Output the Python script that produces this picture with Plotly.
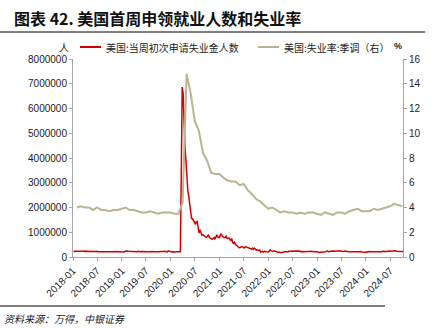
import pandas as pd
import plotly.graph_objects as go

# Weekly initial jobless claims (SA), thousands of persons, week ending Saturday from 2018-01-06
claims_2018 = [250, 220, 233, 230, 221, 223, 230, 210, 222, 213, 229, 246, 215, 231, 233, 211, 210, 216, 222, 234,
               221, 223, 221, 218, 228, 232, 215, 208, 219, 210, 213, 214, 213, 204, 209, 205, 202, 209, 201, 207,
               214, 216, 217, 214, 225, 224, 232, 235, 225, 210, 221, 232]
claims_2019 = [216, 213, 200, 234, 253, 239, 229, 227, 217, 226, 216, 225, 211, 196, 202, 192, 210, 230, 212, 212,
               218, 215, 211, 221, 227, 221, 212, 206, 215, 215, 209, 218, 210, 215, 214, 213, 210, 219, 217, 210,
               216, 219, 213, 211, 227, 228, 215, 213, 203, 252, 235, 222]
claims_2020 = [214, 207, 216, 223, 203, 207, 210, 213, 216, 215, 211, 3307, 6867, 6615, 5237, 4442, 3867, 3176, 2687,
               2446, 2123, 1897, 1566, 1540, 1482, 1413, 1310, 1422, 1435, 1191, 971, 1106, 1011, 881, 893, 866, 873,
               849, 787, 845, 898, 787, 751, 757, 711, 748, 787, 716, 862, 892, 806, 790]
claims_2021 = [787, 926, 914, 836, 812, 779, 793, 841, 754, 745, 770, 684, 658, 741, 576, 553, 592, 505, 473, 440,
               406, 375, 385, 412, 418, 411, 364, 385, 424, 400, 375, 348, 354, 340, 318, 351, 312, 362, 327, 289,
               296, 269, 269, 281, 194, 216, 227, 199, 237, 209, 205, 198]
claims_2022 = [207, 230, 286, 260, 238, 229, 248, 232, 215, 227, 214, 187, 202, 171, 185, 181, 186, 200, 218, 210,
               227, 200, 229, 230, 231, 235, 244, 261, 254, 248, 252, 250, 246, 243, 233, 209, 222, 219, 193, 214,
               226, 217, 218, 221, 225, 240, 230, 226, 214, 211, 216, 223]
claims_2023 = [206, 190, 192, 183, 196, 194, 195, 192, 197, 211, 228, 246, 228, 211, 235, 245, 229, 241, 244, 229,
               234, 238, 254, 246, 248, 249, 234, 222, 232, 221, 238, 240, 239, 230, 216, 215, 203, 207, 210, 213,
               223, 219, 212, 214, 220, 222, 233, 225, 205, 200, 218, 204]
claims_2024 = [202, 187, 214, 224, 218, 220, 213, 201, 213, 210, 209, 212, 222, 221, 212, 212, 208, 209, 231, 222,
               230, 229, 221, 223, 243, 238, 233, 238, 222, 235, 245, 243, 249, 233, 227, 232, 231, 219, 224, 219,
               225, 258, 241, 227]

# Monthly unemployment rate (SA), %, plotted at month end from 2018-01
unemp_2018 = [4.0, 4.1, 4.0, 4.0, 3.8, 4.0, 3.8, 3.8, 3.7, 3.8, 3.8, 3.9]
unemp_2019 = [4.0, 3.8, 3.8, 3.7, 3.6, 3.6, 3.7, 3.6, 3.5, 3.6, 3.6, 3.6]
unemp_2020 = [3.5, 3.5, 4.4, 14.8, 13.2, 11.0, 10.2, 8.4, 7.8, 6.8, 6.7, 6.7]
unemp_2021 = [6.4, 6.2, 6.1, 6.1, 5.8, 5.9, 5.4, 5.1, 4.7, 4.5, 4.2, 3.9]
unemp_2022 = [4.0, 3.8, 3.6, 3.7, 3.6, 3.6, 3.5, 3.6, 3.5, 3.6, 3.6, 3.5]
unemp_2023 = [3.4, 3.6, 3.5, 3.4, 3.6, 3.6, 3.5, 3.7, 3.8, 3.9, 3.7, 3.7]
unemp_2024 = [3.7, 3.9, 3.8, 3.9, 4.0, 4.1, 4.3, 4.2, 4.1]

tick_labels = ["2018-01", "2018-07", "2019-01", "2019-07", "2020-01", "2020-07", "2021-01",
               "2021-07", "2022-01", "2022-07", "2023-01", "2023-07", "2024-01", "2024-07"]

claims_k = claims_2018 + claims_2019 + claims_2020 + claims_2021 + claims_2022 + claims_2023 + claims_2024
claims = [v * 1000 for v in claims_k]
claim_dates = pd.date_range("2018-01-06", periods=len(claims), freq="7D")

unemp = unemp_2018 + unemp_2019 + unemp_2020 + unemp_2021 + unemp_2022 + unemp_2023 + unemp_2024
unemp_dates = pd.date_range("2018-01-31", periods=len(unemp), freq="ME")

RED = "#d40000"
OLIVE = "#b9b492"
AXIS = "#a6a6a6"
TXT = "#222222"
CJK = "Noto Sans CJK SC"
LAT = "Liberation Sans, Arial, sans-serif"

fig = go.Figure()
fig.add_trace(go.Scatter(x=unemp_dates, y=unemp, mode="lines", yaxis="y2",
                         line=dict(color=OLIVE, width=2), name="美国:失业率:季调（右）"))
fig.add_trace(go.Scatter(x=claim_dates, y=claims, mode="lines",
                         line=dict(color=RED, width=1.5), name="美国:当周初次申请失业金人数"))

fig.update_layout(
    width=447, height=328,
    margin=dict(l=73, r=44, t=59, b=71),
    paper_bgcolor="white", plot_bgcolor="white",
    showlegend=False,
    xaxis=dict(
        type="date",
        range=["2018-01-01", "2024-10-05"],
        tickvals=[pd.Timestamp(t + "-01") for t in tick_labels],
        ticktext=tick_labels,
        tickangle=-45,
        showgrid=False, zeroline=False,
        showline=True, linecolor=AXIS, linewidth=1,
        ticks="outside", ticklen=3, tickcolor=AXIS,
        tickfont=dict(family=LAT, size=10, color=TXT),
    ),
    yaxis=dict(
        range=[0, 8000000], dtick=1000000, tickformat="d",
        showgrid=False, zeroline=False,
        showline=True, linecolor=AXIS, linewidth=1,
        ticks="outside", ticklen=3, tickcolor=AXIS,
        tickfont=dict(family=LAT, size=10, color=TXT),
    ),
    yaxis2=dict(
        range=[0, 16], dtick=2, overlaying="y", side="right",
        showgrid=False, zeroline=False,
        showline=True, linecolor=AXIS, linewidth=1,
        ticks="outside", ticklen=3, tickcolor=AXIS,
        tickfont=dict(family=LAT, size=10, color=TXT),
    ),
)

W, H = 447, 328
pw, ph = W - 73 - 44, H - 59 - 71


def px(x):
    return (x - 73) / pw


def py(y):
    return (H - 71 - y) / ph


shapes = [
    # rule under the heading and above the source note
    dict(type="line", xref="paper", yref="paper", x0=px(0), x1=px(425), y0=py(32), y1=py(32),
         line=dict(color="#555555", width=1.5)),
    dict(type="line", xref="paper", yref="paper", x0=px(0), x1=px(385), y0=py(306), y1=py(306),
         line=dict(color="#555555", width=1.5)),
    # legend keys
    dict(type="line", xref="paper", yref="paper", x0=px(80), x1=px(101), y0=py(47), y1=py(47),
         line=dict(color=RED, width=2)),
    dict(type="line", xref="paper", yref="paper", x0=px(258), x1=px(279), y0=py(47), y1=py(47),
         line=dict(color=OLIVE, width=2)),
]

annotations = [
    dict(text="<b>图表 42. 美国首周申领就业人数和失业率</b>", x=px(12), y=py(18), xref="paper", yref="paper",
         xanchor="left", yanchor="middle", showarrow=False,
         font=dict(family=CJK, size=16, color="#111111")),
    dict(text="美国:当周初次申请失业金人数", x=px(104), y=py(47), xref="paper", yref="paper",
         xanchor="left", yanchor="middle", showarrow=False,
         font=dict(family=CJK, size=10, color=TXT)),
    dict(text="美国:失业率:季调（右）", x=px(282), y=py(47), xref="paper", yref="paper",
         xanchor="left", yanchor="middle", showarrow=False,
         font=dict(family=CJK, size=10, color=TXT)),
    dict(text="人", x=px(71), y=py(47), xref="paper", yref="paper",
         xanchor="right", yanchor="middle", showarrow=False,
         font=dict(family=CJK, size=10, color=TXT)),
    dict(text="<b>%</b>", x=px(398), y=py(46), xref="paper", yref="paper",
         xanchor="center", yanchor="middle", showarrow=False,
         font=dict(family=LAT, size=9, color=TXT)),
    dict(text="资料来源：万得，中银证券", x=px(2), y=py(318), xref="paper", yref="paper",
         xanchor="left", yanchor="middle", showarrow=False,
         font=dict(family=CJK, size=10, color=TXT, style="italic")),
]

fig.update_layout(shapes=shapes, annotations=annotations)
fig.write_html("out.html")
